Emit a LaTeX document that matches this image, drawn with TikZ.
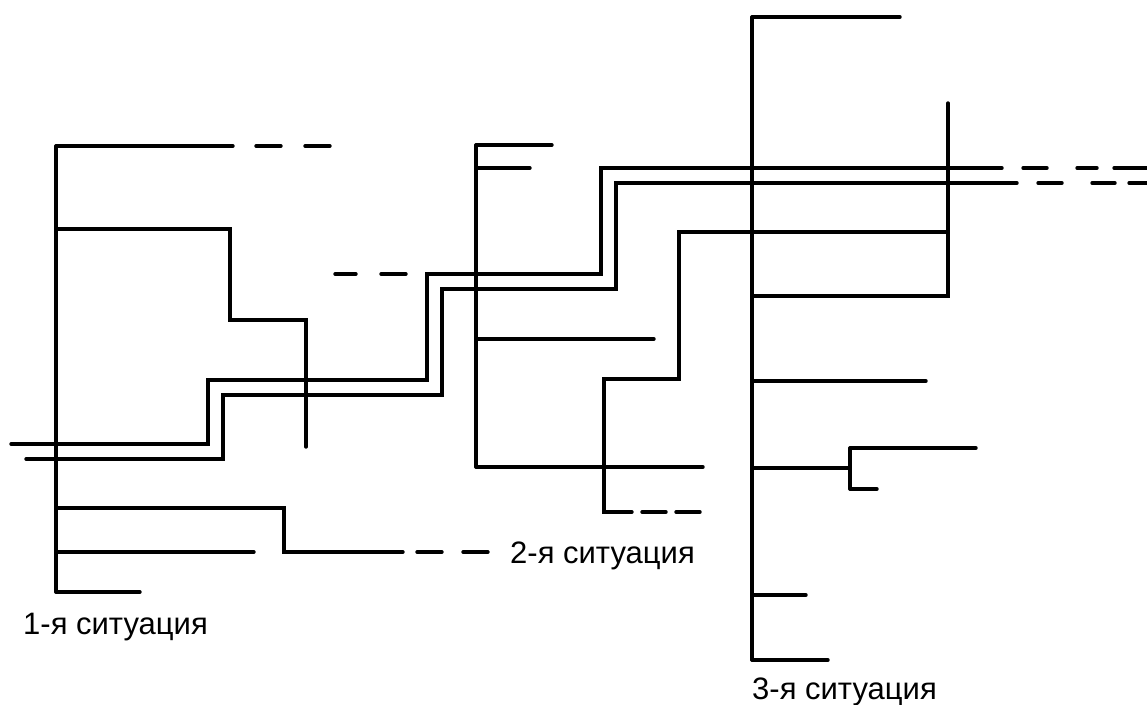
\documentclass[tikz,border=0pt]{standalone}
\usepackage{fontspec}
\setmainfont{Liberation Sans}
\tikzset{
  ln/.style={line width=3.4pt, line cap=round, line join=miter},
  lbl/.style={font=\fontsize{31}{36}\selectfont, inner sep=0pt, anchor=base west}
}
\begin{document}
\begin{tikzpicture}[x=1pt, y=-1pt]
\useasboundingbox (0,0) rectangle (1147,704);

% first situation
\draw[ln] (56,146) -- (56,592);
\draw[ln] (56,146) -- (233,146);
\draw[ln] (256,146) -- (281,146);
\draw[ln] (305,146) -- (330,146);
\draw[ln] (56,229) -- (230,229) -- (230,320) -- (306,320) -- (306,447);
\draw[ln] (56,508) -- (284,508) -- (284,552) -- (403,552);
\draw[ln] (417,552) -- (442,552);
\draw[ln] (463,552) -- (488,552);
\draw[ln] (56,552) -- (254,552);
\draw[ln] (56,592) -- (140,592);
\node[lbl] (s1) at (23,634) {1-я ситуация};

% upper stepped line
\draw[ln] (11,444) -- (208,444) -- (208,380) -- (427,380) -- (427,274)
  -- (601,274) -- (601,168) -- (1002,168);
\draw[ln] (335,274) -- (356,274);
\draw[ln] (381,274) -- (406,274);
\draw[ln] (1023,168) -- (1047,168);
\draw[ln] (1077,168) -- (1097,168);
\draw[ln] (1114,168) -- (1147,168);

% lower stepped line
\draw[ln] (26,459) -- (223,459) -- (223,395) -- (442,395) -- (442,289)
  -- (616,289) -- (616,183) -- (1017,183);
\draw[ln] (1038,183) -- (1062,183);
\draw[ln] (1092,183) -- (1115,183);
\draw[ln] (1129,183) -- (1147,183);

% second situation
\draw[ln] (476,145) -- (476,467);
\draw[ln] (476,145) -- (552,145);
\draw[ln] (476,168) -- (530,168);
\draw[ln] (476,339) -- (654,339);
\draw[ln] (476,467) -- (703,467);
\node[lbl] (s2) at (510,563) {2-я ситуация};

% branch from the third trunk back into the second
\draw[ln] (752,296) -- (948,296) -- (948,103);
\draw[ln] (948,232) -- (679,232) -- (679,379) -- (604,379) -- (604,512) -- (632,512);
\draw[ln] (642,512) -- (666,512);
\draw[ln] (676,512) -- (700,512);

% third situation
\draw[ln] (752,17) -- (752,660);
\draw[ln] (752,17) -- (900,17);
\draw[ln] (752,381) -- (926,381);
\draw[ln] (752,468) -- (850,468);
\draw[ln] (850,448) -- (850,489);
\draw[ln] (850,448) -- (976,448);
\draw[ln] (850,489) -- (877,489);
\draw[ln] (752,595) -- (806,595);
\draw[ln] (752,660) -- (828,660);
\node[lbl] (s3) at (752,699) {3-я ситуация};
\end{tikzpicture}
\end{document}
